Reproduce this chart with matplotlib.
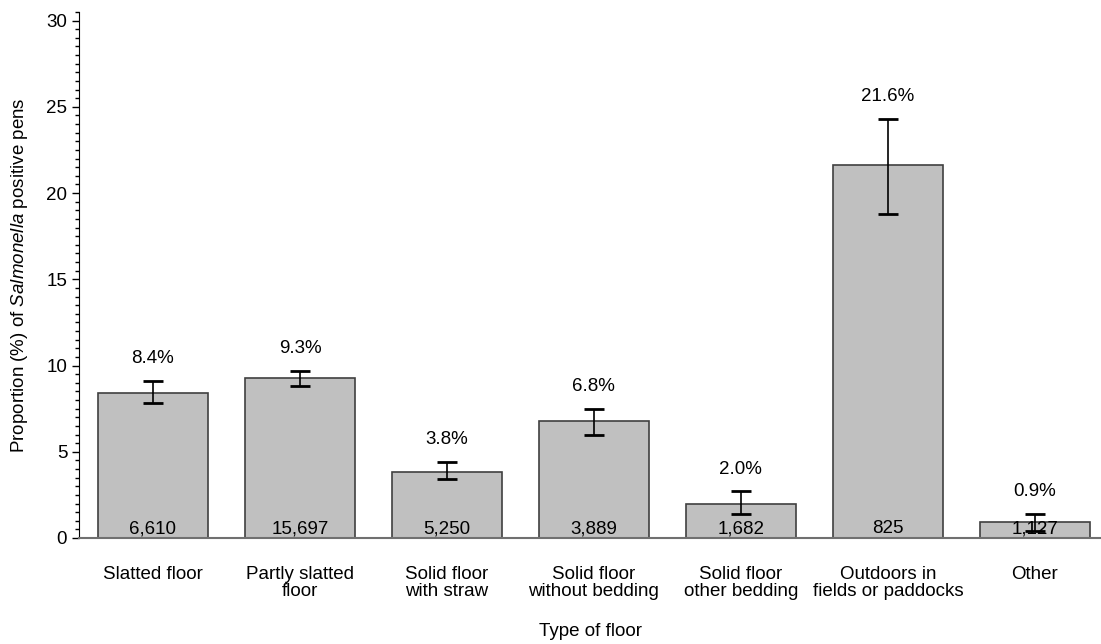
import numpy as np
import matplotlib
matplotlib.use("Agg")
import matplotlib.pyplot as plt
from matplotlib.ticker import MultipleLocator

plt.rcParams['font.family'] = ['Liberation Sans', 'DejaVu Sans']
plt.rcParams['mathtext.fontset'] = 'custom'
plt.rcParams['mathtext.rm'] = 'Liberation Sans'
plt.rcParams['mathtext.it'] = 'Liberation Sans:italic'

floor_types = ["Slatted floor", "Partly slatted\nfloor", "Solid floor\nwith straw",
               "Solid floor\nwithout bedding", "Solid floor\nother bedding",
               "Outdoors in\nfields or paddocks", "Other"]
proportion = [8.4, 9.3, 3.8, 6.8, 2.0, 21.6, 0.9]
ci_lower = [7.8, 8.8, 3.4, 6.0, 1.4, 18.8, 0.4]
ci_upper = [9.1, 9.7, 4.4, 7.5, 2.7, 24.3, 1.4]
n_pens = ["6,610", "15,697", "5,250", "3,889", "1,682", "825", "1,127"]

FS = 13.5

x = np.arange(len(floor_types))
prop = np.array(proportion)
yerr = [prop - np.array(ci_lower), np.array(ci_upper) - prop]

fig = plt.figure(figsize=(11.01, 6.44), dpi=100)
ax = fig.add_axes([0.0718, 0.1646, 0.9282, 0.8168])

ax.bar(x, prop, width=0.75, color="#c0c0c0", edgecolor="#404040", linewidth=1.2, zorder=2)
ax.errorbar(x, prop, yerr=yerr, fmt="none", ecolor="black", elinewidth=1.2,
            capsize=7, capthick=2, zorder=3)

for xi, p, up, n in zip(x, proportion, ci_upper, n_pens):
    ax.text(xi, up + 1.3, f"{p:.1f}%", ha="center", va="center", fontsize=FS)
    ax.text(xi, 0.05, n, ha="center", va="bottom", fontsize=FS)

ax.set_xlim(-0.503, 6.45)
ax.set_ylim(0, 30.5)
ax.set_xticks(x)
ax.set_xticklabels(floor_types, fontsize=FS, linespacing=1.05)
ax.tick_params(axis="x", length=0, pad=20)
ax.yaxis.set_major_locator(MultipleLocator(5))
ax.yaxis.set_minor_locator(MultipleLocator(0.5))
ax.tick_params(axis="y", which="major", length=5, width=1, labelsize=FS)
ax.tick_params(axis="y", which="minor", length=3, width=1)

for side in ["top", "right"]:
    ax.spines[side].set_visible(False)
ax.spines["left"].set_color("black")
ax.spines["bottom"].set_color("#707070")
ax.spines["bottom"].set_linewidth(1.5)

ax.set_xlabel("Type of floor", fontsize=FS, va="center")
ax.xaxis.set_label_coords(0.5, -0.1787)
ax.set_ylabel(r"Proportion (%) of $\mathit{Salmonella}$ positive pens", fontsize=FS, va="center")
ax.yaxis.set_label_coords(-0.0587, 0.5)

fig.savefig("out.png", dpi=100)
